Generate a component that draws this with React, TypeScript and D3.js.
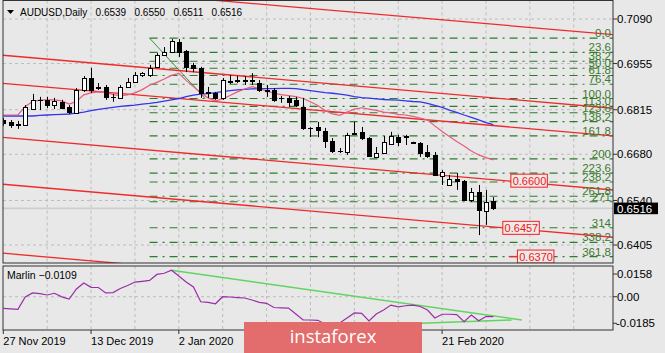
import React from "react";
import * as d3 from "d3";

// -- DATA --
const barDates = [
  "2019-11-27", "2019-11-28", "2019-11-29", "2019-12-02", "2019-12-03", "2019-12-04", "2019-12-05", "2019-12-06",
  "2019-12-09", "2019-12-10", "2019-12-11", "2019-12-12", "2019-12-13", "2019-12-16", "2019-12-17", "2019-12-18",
  "2019-12-19", "2019-12-20", "2019-12-23", "2019-12-24", "2019-12-26", "2019-12-27", "2019-12-30", "2019-12-31",
  "2020-01-02", "2020-01-03", "2020-01-06", "2020-01-07", "2020-01-08", "2020-01-09", "2020-01-10", "2020-01-13",
  "2020-01-14", "2020-01-15", "2020-01-16", "2020-01-17", "2020-01-20", "2020-01-21", "2020-01-22", "2020-01-23",
  "2020-01-24", "2020-01-27", "2020-01-28", "2020-01-29", "2020-01-30", "2020-01-31", "2020-02-03", "2020-02-04",
  "2020-02-05", "2020-02-06", "2020-02-07", "2020-02-10", "2020-02-11", "2020-02-12", "2020-02-13", "2020-02-14",
  "2020-02-17", "2020-02-18", "2020-02-19", "2020-02-20", "2020-02-21", "2020-02-24", "2020-02-25", "2020-02-26",
  "2020-02-27", "2020-02-28", "2020-03-02", "2020-03-03",
];

const openPx = [
  0.6784, 0.6778, 0.6772, 0.6769, 0.6817, 0.6845, 0.6845, 0.6829, 0.6839, 0.6823,
  0.6805, 0.6875, 0.6911, 0.6882, 0.6884, 0.6854, 0.6851, 0.6884, 0.6899, 0.692,
  0.692, 0.6945, 0.6981, 0.699, 0.702, 0.6993, 0.6951, 0.6942, 0.6866, 0.6866,
  0.6851, 0.6902, 0.6905, 0.6903, 0.6905, 0.6896, 0.6875, 0.6875, 0.6851, 0.6851,
  0.6845, 0.6823, 0.676, 0.6763, 0.6751, 0.672, 0.669, 0.6687, 0.6742, 0.6748,
  0.6729, 0.6672, 0.6684, 0.6711, 0.6732, 0.6734, 0.6717, 0.6714, 0.6687, 0.6678,
  0.6614, 0.6587, 0.6605, 0.6599, 0.6541, 0.6566, 0.6508, 0.6539,
];
const highPx = [
  0.679, 0.6784, 0.6781, 0.6829, 0.6863, 0.6854, 0.6854, 0.6851, 0.6845, 0.6829,
  0.6881, 0.6917, 0.6942, 0.6896, 0.689, 0.6863, 0.689, 0.6911, 0.6929, 0.6929,
  0.6951, 0.6987, 0.7005, 0.7029, 0.7029, 0.6996, 0.6957, 0.6945, 0.6884, 0.6869,
  0.6911, 0.692, 0.6917, 0.6917, 0.6926, 0.6905, 0.689, 0.6881, 0.6857, 0.6857,
  0.6854, 0.6851, 0.6762, 0.6778, 0.676, 0.6729, 0.6699, 0.6745, 0.6778, 0.6763,
  0.6732, 0.6702, 0.6736, 0.6748, 0.6739, 0.6739, 0.6718, 0.6717, 0.6708, 0.6687,
  0.6632, 0.6617, 0.6623, 0.6602, 0.6578, 0.6587, 0.6572, 0.655,
];
const lowPx = [
  0.6766, 0.676, 0.6757, 0.6766, 0.6814, 0.6814, 0.682, 0.6817, 0.6817, 0.6802,
  0.6802, 0.6869, 0.6866, 0.6875, 0.6845, 0.6839, 0.6848, 0.6881, 0.6896, 0.6914,
  0.6914, 0.6942, 0.6978, 0.6987, 0.6975, 0.6929, 0.6929, 0.6851, 0.6851, 0.6845,
  0.6845, 0.6893, 0.6896, 0.689, 0.689, 0.6869, 0.6854, 0.6839, 0.6836, 0.6823,
  0.6823, 0.6754, 0.6732, 0.6732, 0.6699, 0.6684, 0.6684, 0.6678, 0.6739, 0.6723,
  0.6672, 0.6669, 0.6681, 0.6708, 0.6705, 0.6708, 0.6713, 0.6672, 0.6669, 0.6614,
  0.6587, 0.6585, 0.6572, 0.6538, 0.6535, 0.6435, 0.6466, 0.6511,
];
const closePx = [
  0.6775, 0.6769, 0.6769, 0.6823, 0.6845, 0.6843, 0.6829, 0.6842, 0.682, 0.6808,
  0.6875, 0.6911, 0.6875, 0.6884, 0.6854, 0.6855, 0.6884, 0.6899, 0.692, 0.6926,
  0.6942, 0.6981, 0.699, 0.7023, 0.699, 0.6945, 0.6942, 0.6866, 0.6868, 0.6851,
  0.6905, 0.6899, 0.6903, 0.6905, 0.6903, 0.6875, 0.6873, 0.6845, 0.685, 0.6839,
  0.6829, 0.676, 0.676, 0.6754, 0.672, 0.669, 0.6691, 0.6739, 0.6745, 0.6729,
  0.6675, 0.6684, 0.6717, 0.6736, 0.6717, 0.6732, 0.6714, 0.6684, 0.6675, 0.6617,
  0.6626, 0.6605, 0.6599, 0.6541, 0.6566, 0.6511, 0.6535, 0.6516,
];

// moving averages
const redMA = [
  0.6799, 0.6799, 0.6799, 0.6825, 0.684, 0.6844, 0.6845, 0.6845, 0.6842, 0.6832,
  0.684, 0.686, 0.6866, 0.6869, 0.6868, 0.6861, 0.6858, 0.686, 0.6866, 0.6876,
  0.6889, 0.6898, 0.6908, 0.6919, 0.6925, 0.6904, 0.6885, 0.6866, 0.6851, 0.6842,
  0.6848, 0.6858, 0.6869, 0.6878, 0.6885, 0.6879, 0.6872, 0.6865, 0.6861, 0.6858,
  0.6855, 0.6849, 0.6839, 0.6828, 0.6813, 0.6802, 0.6798, 0.6808, 0.6817, 0.6821,
  0.6817, 0.6813, 0.6808, 0.6805, 0.6801, 0.6799, 0.6795, 0.679, 0.6784, 0.6766,
  0.6749, 0.6734, 0.6719, 0.6705, 0.669, 0.6678, 0.667, 0.6663,
];
const blueMA = [
  0.6796, 0.6796, 0.6796, 0.6796, 0.6796, 0.6798, 0.6799, 0.68, 0.6801, 0.6802,
  0.6805, 0.6808, 0.6812, 0.6816, 0.6819, 0.6822, 0.6825, 0.6827, 0.6829, 0.6832,
  0.6834, 0.6837, 0.6841, 0.6845, 0.6849, 0.6855, 0.6859, 0.6862, 0.6864, 0.6867,
  0.687, 0.6873, 0.6875, 0.6877, 0.6878, 0.6879, 0.6879, 0.6879, 0.688, 0.688,
  0.6879, 0.6876, 0.6873, 0.687, 0.6867, 0.6865, 0.6862, 0.6859, 0.6855, 0.6852,
  0.685, 0.6848, 0.6846, 0.6845, 0.6844, 0.6842, 0.684, 0.6839, 0.6834, 0.6828,
  0.6822, 0.6814, 0.6807, 0.6799, 0.6792, 0.6784, 0.6776, 0.677,
];
const marlin = [
  -0.0081, -0.0084, -0.0088, -0.0002, 0.0026, 0.0022, 0.0012, 0.0024, -0.0001, -0.0016,
  0.0054, 0.0095, 0.0065, 0.0064, 0.0026, 0.0029, 0.0057, 0.0078, 0.0102, 0.0107,
  0.0113, 0.0155, 0.0163, 0.0184, 0.0144, 0.0102, 0.0068, -0.0035, -0.004, -0.0049,
  0.0, -0.0002, -0.0006, -0.0009, -0.0023, -0.0039, -0.0046, -0.0075, -0.0077, -0.0079,
  -0.012, -0.0162, -0.0162, -0.0164, -0.019, -0.0197, -0.0183, -0.0148, -0.0113, -0.0116,
  -0.0169, -0.012, -0.0093, -0.0058, -0.007, -0.0063, -0.0059, -0.0068, -0.0093, -0.0148,
  -0.0122, -0.0122, -0.0124, -0.0173, -0.0127, -0.0167, -0.0138, -0.0139,
];
const marlinCaption = -0.0109;

const priceTicks = [0.709, 0.6955, 0.6815, 0.668, 0.654, 0.6405];
const marlinTicks = [0.0158, 0, -0.0185];
const marlinTickLabels = ["0.0158", "0.00", "-0.0185"];

// fibonacci grid (high -> low), anchors in bar index
const fibHigh = 0.7032;
const fibLow = 0.6849;
const fibFromBar = 20;
const fibToBar = 27.6;
const fibLevels = [0, 23.6, 38.2, 50, 61.8, 76.4, 100, 113, 123.6, 138.2, 161.8, 200, 223.6, 238.2, 261.8, 271, 314, 338.2, 361.8];
const fibLabels = ["0.0", "23.6", "38.2", "50.0", "61.8", "76.4", "100.0", "113.0", "123.6", "138.2", "161.8", "200", "223.6", "238.2", "261.8", "271", "314", "338.2", "361.8"];

// red channel lines: price at first bar / at last bar
const channelStart = [0.7202, 0.698, 0.6895, 0.6731, 0.6589, 0.638];
const channelEnd = [0.7074, 0.6851, 0.6767, 0.6603, 0.646, 0.6251];

// red price tags
const tagValues = [0.66, 0.6457, 0.637];
const tagBars = [69.4, 68.3, 70.3];
const tagStubs = [0, 0, 1.2];

// marlin trend lines [bar, value]
const marlinUpper = [[23, 0.0184], [70.9, -0.0162]];
const marlinLower = [[46, -0.0206], [69.5, -0.0162]];

const BG = "#e8e8e8";
const GRID = "#bcbcbc";
const FONT = "'Liberation Sans', Arial, sans-serif";

const App = () => {
  const n = barDates.length;
  const left = 3, right = 613, top = 0.5, bottom = 263;
  const subTop = 266, subBottom = 330;
  const logo = { x: 244, y: 322, w: 178, h: 32 };

  // -- SCALES --
  const x = d3.scaleLinear().domain([0, n - 1]).range([3.3, 493.3]);
  const y = d3.scaleLinear().domain([0.6405, 0.709]).range([245, 19]);
  const ym = d3.scaleLinear().domain([-0.0185, 0.0158]).range([323.3, 274]);
  const iLeft = x.invert(left);
  const iRight = x.invert(right);

  const maLine = d3.line<number>().x((_, i) => x(i)).y((d) => y(d));
  const marlinLine = d3.line<number>().x((_, i) => x(i)).y((d) => ym(d));
  const parseDate = d3.timeParse("%Y-%m-%d");
  const fmtDate = d3.timeFormat("%-d %b %Y");
  const fmt4 = d3.format(".4f");

  const gridBars = d3.range(6, iRight, 6);
  // date labels every 12 bars; the ones under the watermark are not visible
  const labelBars = d3.range(0, n, 12);
  const visibleLabel = (i: number) => x(i) + 62 < logo.x || x(i) > logo.x + logo.w;
  const last = n - 1;

  const chanAt = (k: number, i: number) =>
    channelStart[k] + ((channelEnd[k] - channelStart[k]) * i) / (n - 1);

  return (
    <svg width={665} height={353} style={{ position: "absolute", left: 0, top: 0 }} fontFamily={FONT}>
      <defs>
        <clipPath id="mainClip">
          <rect x={left} y={top} width={right - left} height={bottom - top} />
        </clipPath>
        <clipPath id="subClip">
          <rect x={left} y={subTop} width={right - left} height={subBottom - subTop} />
        </clipPath>
      </defs>
      <rect width={665} height={353} fill={BG} />

      {/* main panel */}
      <g clipPath="url(#mainClip)">
        {gridBars.map((i) => (
          <line key={"gv" + i} x1={x(i)} x2={x(i)} y1={top} y2={bottom} stroke={GRID} strokeDasharray="3 3" />
        ))}
        {priceTicks.map((p) => (
          <line key={"gh" + p} x1={left} x2={right} y1={y(p)} y2={y(p)} stroke={GRID} strokeDasharray="3 3" />
        ))}
        {/* bid line */}
        <line x1={left} x2={right} y1={y(closePx[last])} y2={y(closePx[last])} stroke="#cdcdcd" strokeWidth={1.6} />

        {/* fibo */}
        {fibLevels.map((lv, k) => {
          const p = fibHigh - ((fibHigh - fibLow) * lv) / 100;
          return (
            <line key={"fib" + k} x1={x(fibFromBar)} x2={right} y1={y(p)} y2={y(p)}
              stroke="#2b7d2b" strokeWidth={1.1} strokeDasharray="8 5 2 5" />
          );
        })}
        <line x1={x(fibFromBar)} y1={y(fibHigh)} x2={x(fibToBar)} y2={y(fibLow)} stroke="#3f8f3f" strokeWidth={1} />

        {/* channel lines */}
        {channelStart.map((_, k) => (
          <line key={"ch" + k} x1={left} y1={y(chanAt(k, iLeft))} x2={right} y2={y(chanAt(k, iRight))}
            stroke="#f02a2a" strokeWidth={1.3} />
        ))}

        {/* moving averages */}
        <path d={maLine(blueMA) || ""} fill="none" stroke="#3434ee" strokeWidth={1.3} />
        <path d={maLine(redMA) || ""} fill="none" stroke="#e85a7e" strokeWidth={1.2} />

        {/* candles */}
        {openPx.map((o, i) => {
          const c = closePx[i];
          const cx = Math.round(x(i));
          const yTop = Math.round(y(Math.max(o, c)));
          const yBot = Math.round(y(Math.min(o, c)));
          const up = c > o;
          return (
            <g key={"c" + i}>
              <line x1={cx + 0.5} x2={cx + 0.5} y1={y(highPx[i])} y2={y(lowPx[i])} stroke="#000" />
              {yBot - yTop < 1 ? (
                <line x1={cx - 2} x2={cx + 3} y1={yTop + 0.5} y2={yTop + 0.5} stroke="#000" />
              ) : (
                <rect x={cx - 1.5} y={yTop + 0.5} width={4} height={yBot - yTop}
                  fill={up ? "#fff" : "#000"} stroke="#000" />
              )}
            </g>
          );
        })}

        {/* fibo labels */}
        {fibLevels.map((lv, k) => {
          const p = fibHigh - ((fibHigh - fibLow) * lv) / 100;
          return (
            <text key={"fl" + k} x={611} y={y(p) - 1} textAnchor="end" fontSize={11.5} fill="#3b7a2e">
              {fibLabels[k]}
            </text>
          );
        })}

        {/* red price tags */}
        {tagValues.map((p, k) => {
          const tx = x(tagBars[k]);
          return (
            <g key={"tag" + k}>
              {tagStubs[k] > 0 && (
                <line x1={x(tagBars[k] - tagStubs[k])} x2={tx} y1={y(p)} y2={y(p)} stroke="#f02a2a" strokeWidth={1.3} />
              )}
              <rect x={tx} y={y(p) - 6.5} width={36.5} height={13} fill="#eee8e8" stroke="#f02020" />
              <text x={tx + 1.8} y={y(p)} dy="0.36em" fontSize={11} fill="#f01818">
                {fmt4(p)}
              </text>
            </g>
          );
        })}
      </g>

      {/* title */}
      <path d="M7,10 L14,10 L10.5,14 Z" fill="#000" />
      <text x={20} y={16} fontSize={10} fill="#000" style={{ whiteSpace: "pre" }}>
        {"AUDUSD,Daily   " + [openPx[last], highPx[last], lowPx[last], closePx[last]].map(fmt4).join("   ")}
      </text>

      {/* marlin panel */}
      <g clipPath="url(#subClip)">
        {gridBars.map((i) => (
          <line key={"sv" + i} x1={x(i)} x2={x(i)} y1={subTop} y2={subBottom} stroke={GRID} strokeDasharray="3 3" />
        ))}
        <line x1={left} x2={right} y1={ym(0)} y2={ym(0)} stroke={GRID} strokeDasharray="3 3" />
        {[marlinUpper, marlinLower].map((seg, k) => (
          <line key={"mt" + k} x1={x(seg[0][0])} y1={ym(seg[0][1])} x2={x(seg[1][0])} y2={ym(seg[1][1])}
            stroke="#62d462" strokeWidth={1.5} />
        ))}
        <path d={marlinLine(marlin) || ""} fill="none" stroke="#9a2ea6" strokeWidth={1.2} />
      </g>
      <text x={7} y={279} fontSize={10.5} fill="#000">
        {"Marlin " + fmt4(marlinCaption)}
      </text>

      {/* frames */}
      <rect x={left} y={top} width={right - left} height={bottom - top} fill="none" stroke="#333" />
      <rect x={left} y={subTop} width={right - left} height={subBottom - subTop} fill="none" stroke="#333" />

      {/* right axis */}
      {priceTicks.map((p) => (
        <g key={"ra" + p}>
          <line x1={right} x2={right + 4} y1={y(p)} y2={y(p)} stroke="#333" />
          <text x={617} y={y(p)} dy="0.36em" fontSize={11.5} fill="#000">
            {fmt4(p)}
          </text>
        </g>
      ))}
      {marlinTicks.map((v, k) => (
        <g key={"ma" + k}>
          <line x1={right} x2={right + 4} y1={ym(v)} y2={ym(v)} stroke="#333" />
          <text x={v < 0 ? 616 : 617} y={ym(v)} dy="0.36em" fontSize={11.5} fill="#000">
            {marlinTickLabels[k]}
          </text>
        </g>
      ))}
      <rect x={614} y={y(closePx[last]) - 5.8} width={44} height={11.6} fill="#000" />
      <text x={617} y={y(closePx[last])} dy="0.36em" fontSize={11.5} fill="#fff">
        {fmt4(closePx[last])}
      </text>

      {/* time axis */}
      {labelBars.map((i) => (
        <g key={"ta" + i}>
          <line x1={x(i)} x2={x(i)} y1={subBottom} y2={subBottom + 4} stroke="#333" />
          {visibleLabel(i) && (
            <text x={x(i)} y={345} fontSize={11} fill="#000">
              {fmtDate(parseDate(barDates[i]) as Date)}
            </text>
          )}
        </g>
      ))}

      {/* watermark */}
      <rect x={logo.x} y={logo.y} width={logo.w} height={logo.h} fill="#e36c6c" />
      <text x={logo.x + logo.w / 2} y={343} textAnchor="middle" fontSize={18.5} fill="#fff" fontFamily="'Open Sans', sans-serif">
        instaforex
      </text>
    </svg>
  );
};

export default App;
